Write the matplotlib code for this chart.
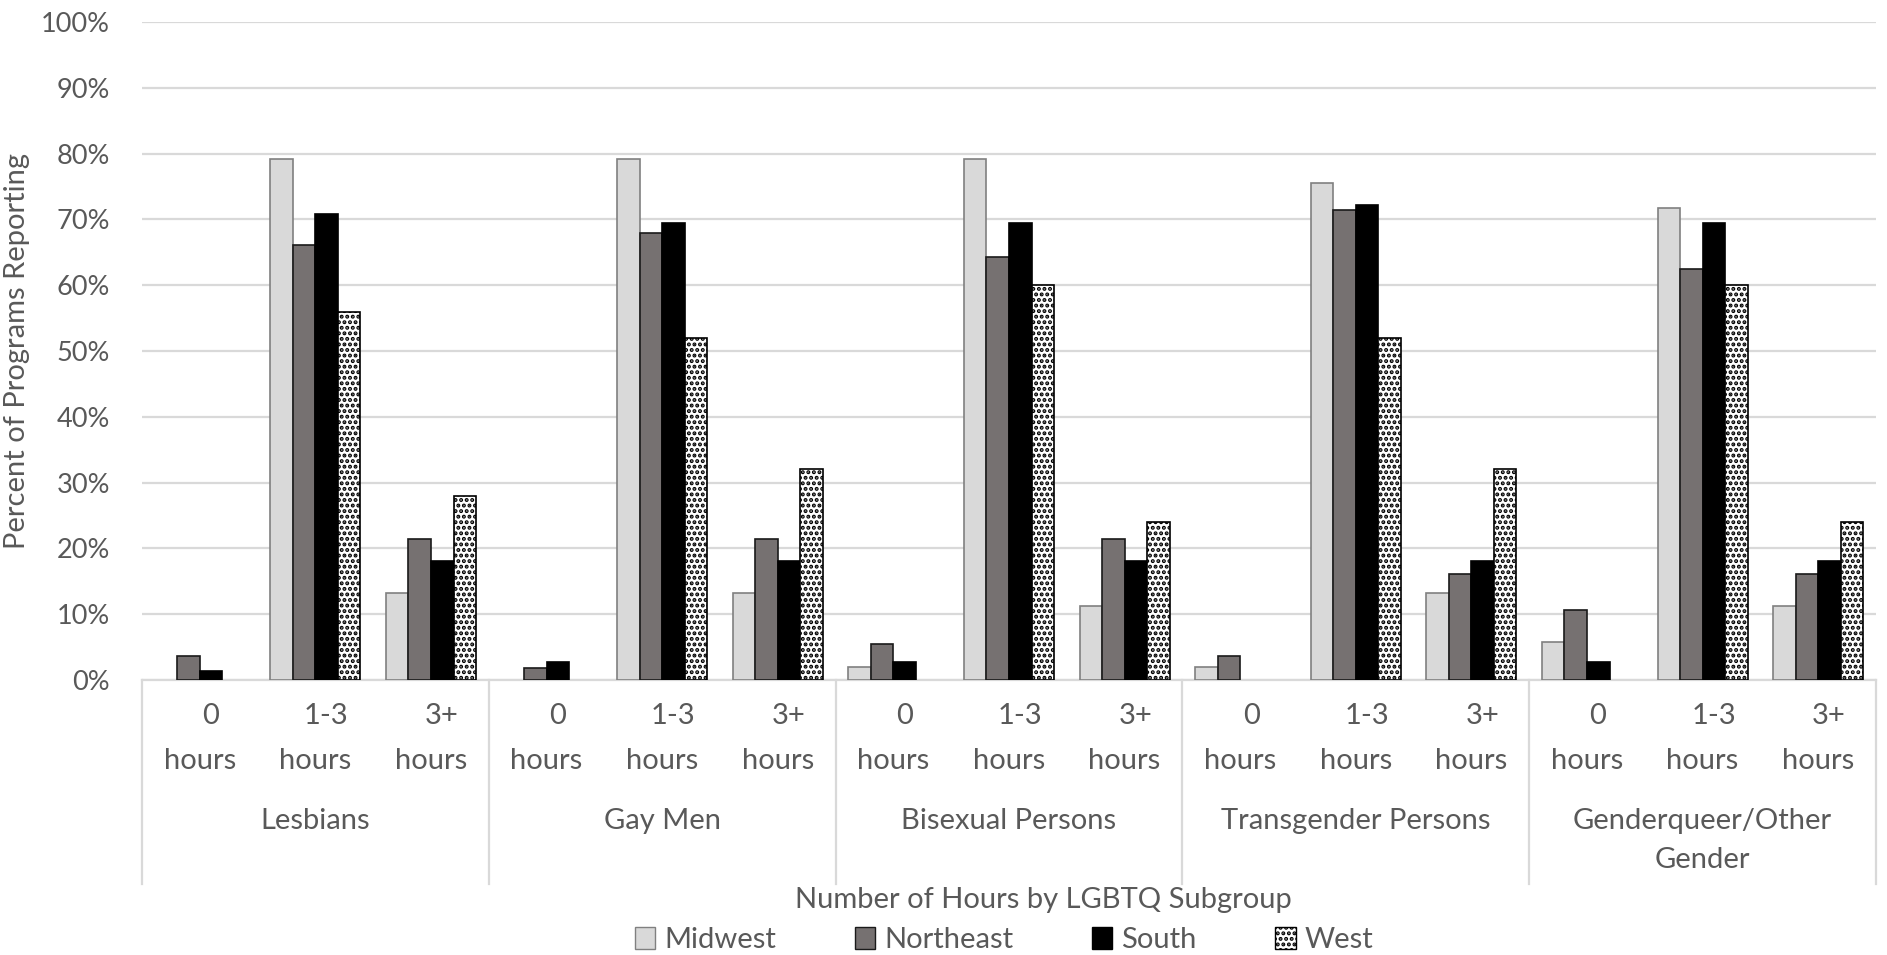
import matplotlib.pyplot as plt
import matplotlib.transforms as mtransforms
from matplotlib.patches import Patch
import numpy as np

plt.rcParams['font.family'] = ['Lato', 'DejaVu Sans']
plt.rcParams['hatch.linewidth'] = 2.0

groups = ['Lesbians', 'Gay Men', 'Bisexual Persons', 'Transgender Persons', 'Genderqueer/Other\nGender']
hours_top = ['0', '1-3', '3+']
series = ['Midwest', 'Northeast', 'South', 'West']

# percent of programs, 5 subgroups x (0, 1-3, 3+ hours)
midwest = [0, 79.2, 13.2, 0, 79.2, 13.2, 1.9, 79.2, 11.3, 1.9, 75.5, 13.2, 5.7, 71.7, 11.3]
northeast = [3.6, 66.1, 21.4, 1.8, 67.9, 21.4, 5.4, 64.3, 21.4, 3.6, 71.4, 16.1, 10.7, 62.5, 16.1]
south = [1.4, 70.8, 18.1, 2.8, 69.4, 18.1, 2.8, 69.4, 18.1, 0, 72.2, 18.1, 2.8, 69.4, 18.1]
west = [0, 56.0, 28.0, 0, 52.0, 32.0, 0, 60.0, 24.0, 0, 52.0, 32.0, 0, 60.0, 24.0]

faces = ['#D9D9D9', '#767171', '#000000', '#FFFFFF']
edges = ['#808080', '#1a1a1a', '#000000', '#000000']
hatches = [None, None, None, '...']
txt = '#595959'
grid = '#D9D9D9'
fs = 21

W, H = 1887, 955
fig = plt.figure(figsize=(W / 100, H / 100), dpi=100)
x0, x1, y0, y1 = 142, 1876, 22, 680
ax = fig.add_axes([x0 / W, 1 - y1 / H, (x1 - x0) / W, (y1 - y0) / H])

def fy(py):
    return 1 - py / H

n = len(midwest)
x = np.arange(n)
bw = 0.195
for i, vals in enumerate([midwest, northeast, south, west]):
    bars = ax.bar(x + (i - 1.5) * bw, vals, bw, color=faces[i], edgecolor=edges[i],
                  linewidth=1.2, hatch=hatches[i], zorder=3)
    for b, v in zip(bars, vals):
        if v == 0:
            b.set_visible(False)

ax.set_xlim(-0.5, n - 0.5)
ax.set_ylim(0, 100)
ax.set_yticks(np.arange(0, 101, 10))
ax.set_yticklabels([f'{v}%' for v in range(0, 101, 10)])
ax.tick_params(axis='y', length=0, pad=23, labelsize=19.5, labelcolor=txt)
ax.set_xticks([])
ax.yaxis.grid(True, color=grid, linewidth=1.6, zorder=0)
for s in ['top', 'right', 'left']:
    ax.spines[s].set_visible(False)
ax.spines['bottom'].set_color(grid)
ax.spines['bottom'].set_linewidth(1.6)
ax.set_ylabel('Percent of Programs Reporting', fontsize=fs, color=txt, labelpad=8)

blend = mtransforms.blended_transform_factory(ax.transData, fig.transFigure)
blend_shift = mtransforms.offset_copy(blend, fig=fig, x=11, y=0, units='dots')
for k in range(n):
    ax.text(k, fy(716), hours_top[k % 3], transform=blend_shift, ha='center', va='center',
            fontsize=fs, color=txt)
    ax.text(k, fy(761), 'hours', transform=blend, ha='center', va='center',
            fontsize=fs, color=txt)
for g, name in enumerate(groups):
    ax.text(3 * g + 1, fy(808), name, transform=blend, ha='center', va='top',
            fontsize=fs, color=txt, linespacing=1.6)
for b in np.arange(-0.5, n, 3):
    ax.plot([b, b], [fy(680), fy(884)], transform=blend, color=grid,
            linewidth=1.6, clip_on=False)

fig.text(1043 / W, fy(900), 'Number of Hours by LGBTQ Subgroup',
         ha='center', va='center', fontsize=fs, color=txt)

handles = [Patch(facecolor=faces[i], edgecolor=edges[i], hatch=hatches[i]) for i in range(4)]
fig.legend(handles, series, loc='center', bbox_to_anchor=(1004 / W, fy(940)), ncol=4,
           frameon=False, fontsize=fs, labelcolor=txt, handlelength=0.7,
           handleheight=0.75, handletextpad=0.3, columnspacing=2.7,
           borderaxespad=0, borderpad=0)

fig.savefig('out.png', dpi=100)
